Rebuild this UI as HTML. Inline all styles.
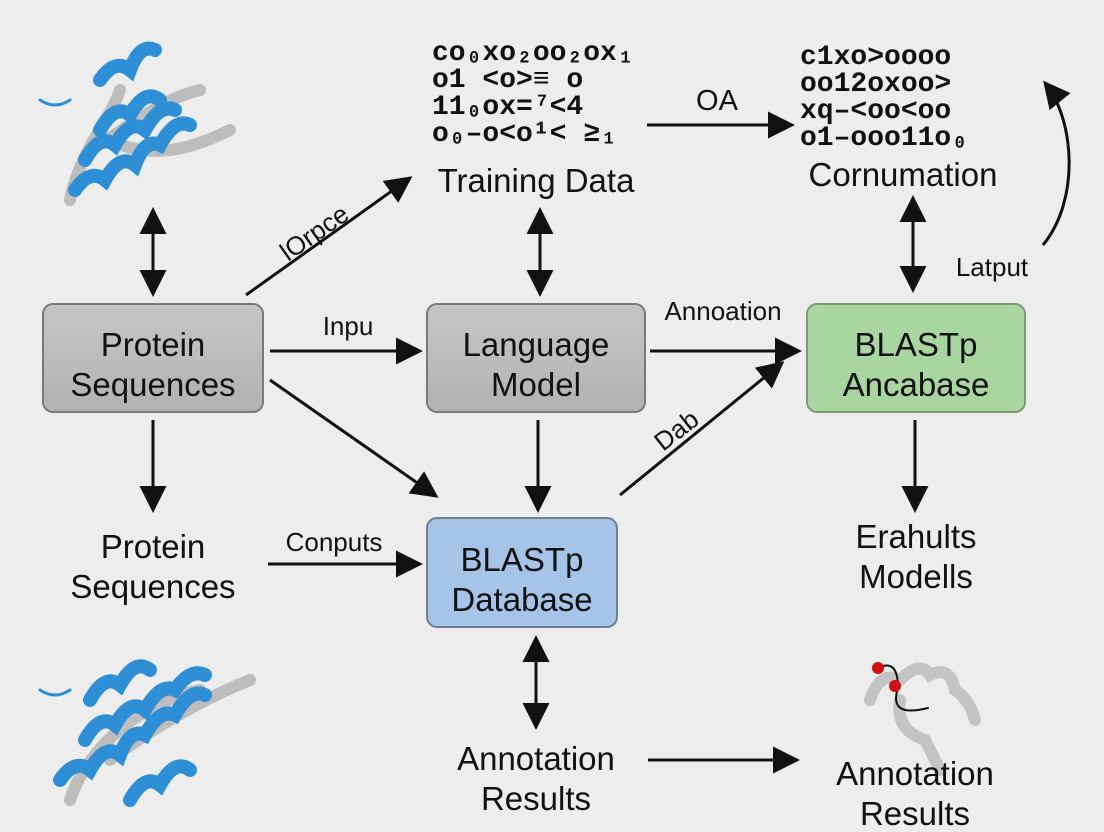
<!DOCTYPE html>
<html><head><meta charset="utf-8"><style>
html,body{margin:0;padding:0;background:#ededed;}
svg{display:block;font-family:"Liberation Sans",sans-serif;}
</style></head><body>
<svg width="1104" height="832" viewBox="0 0 1104 832" xmlns="http://www.w3.org/2000/svg">
<defs>
<marker id="a" markerWidth="9" markerHeight="9" refX="8" refY="4.5" orient="auto" markerUnits="strokeWidth"><path d="M0,0 L9,4.5 L0,9 z" fill="#111"/></marker>
<marker id="s" markerWidth="9" markerHeight="9" refX="1" refY="4.5" orient="auto" markerUnits="strokeWidth"><path d="M9,0 L0,4.5 L9,9 z" fill="#111"/></marker>
<linearGradient id="g1" x1="0" y1="0" x2="0" y2="1"><stop offset="0" stop-color="#c6c6c6"/><stop offset="1" stop-color="#b2b2b2"/></linearGradient>
</defs>
<rect width="1104" height="832" fill="#ededed"/>

<!-- proteins -->
<g fill="none" stroke-linecap="round">
<path d="M70,200 C80,150 110,120 120,90 M90,150 C140,120 160,100 200,90 M110,140 C150,160 190,150 230,130" stroke="#bdbdbd" stroke-width="12"/>
<path d="M75,190 q15,-22 30,-10 q15,-27 30,-15 q10,-27 25,-20 q15,-27 30,-20 M85,160 q15,-27 30,-15 q15,-27 30,-15 q15,-27 30,-20 M100,130 q15,-27 30,-15 q15,-27 30,-15 M100,80 q15,-22 30,-10 q10,-27 25,-20" stroke="#2e8fd6" stroke-width="14"/>
<path d="M40,100 q15,10 30,0" stroke="#2e8fd6" stroke-width="3"/>
<path d="M70,800 C90,740 150,700 200,690 M110,760 C150,730 200,700 250,680" stroke="#bdbdbd" stroke-width="12"/>
<path d="M60,780 q15,-22 30,-10 q15,-27 30,-15 q10,-27 25,-20 q15,-27 30,-20 q15,-27 30,-20 M85,740 q15,-27 30,-15 q15,-27 30,-15 q15,-27 30,-20 q15,-22 30,-15 M90,700 q15,-27 30,-15 q15,-27 30,-15 M130,800 q15,-27 30,-15 q15,-27 30,-15" stroke="#2e8fd6" stroke-width="14"/>
<path d="M40,690 q15,10 30,0" stroke="#2e8fd6" stroke-width="3"/>
<path d="M870,700 q10,-30 30,-20 q20,-20 30,-5 q20,-10 25,15 q15,10 20,30 M900,700 q-5,30 25,40 q10,20 15,30" stroke="#c4c4c4" stroke-width="12"/>
<path d="M878,668 q20,-10 20,20 q-10,30 30,20" stroke="#111" stroke-width="2"/>
</g>
<circle cx="878" cy="668" r="6" fill="#d01010"/><circle cx="895" cy="686" r="6" fill="#d01010"/>

<!-- code text -->
<g font-family="Liberation Mono,monospace" font-size="28" fill="#111" font-weight="bold">
<text x="432" y="60">co₀xo₂oo₂ox₁</text>
<text x="432" y="87">o1 &lt;o&gt;≡  o</text>
<text x="432" y="114">11₀ox=⁷&lt;4</text>
<text x="432" y="141">o₀–o&lt;o¹&lt;  ≥₁</text>
<text x="800" y="64">c1xo&gt;oooo</text>
<text x="800" y="91">oo12oxoo&gt;</text>
<text x="800" y="118">xq–&lt;oo&lt;oo</text>
<text x="800" y="145">o1–ooo11o₀</text>
</g>

<!-- boxes -->
<rect x="43" y="304" width="220" height="108" rx="10" fill="url(#g1)" stroke="#7a7a7a" stroke-width="2"/>
<rect x="427" y="304" width="218" height="108" rx="10" fill="url(#g1)" stroke="#7a7a7a" stroke-width="2"/>
<rect x="807" y="304" width="218" height="108" rx="10" fill="#a9d6a0" stroke="#7a9a72" stroke-width="2"/>
<rect x="427" y="518" width="190" height="109" rx="10" fill="#a5c4e8" stroke="#6f7f92" stroke-width="2"/>
<g font-size="33" fill="#111" text-anchor="middle">
<text x="536" y="192">Training Data</text>
<text x="903" y="186">Cornumation</text>
<text x="153" y="356">Protein</text><text x="153" y="396">Sequences</text>
<text x="536" y="356">Language</text><text x="536" y="396">Model</text>
<text x="916" y="356">BLASTp</text><text x="916" y="396">Ancabase</text>
<text x="153" y="558">Protein</text><text x="153" y="598">Sequences</text>
<text x="522" y="571">BLASTp</text><text x="522" y="611">Database</text>
<text x="916" y="548">Erahults</text><text x="916" y="588">Modells</text>
<text x="536" y="770">Annotation</text><text x="536" y="810">Results</text>
<text x="915" y="785">Annotation</text><text x="915" y="825">Results</text>
</g>

<!-- arrows -->
<g stroke="#111" stroke-width="3" fill="none">
<path d="M153,210 V294" marker-start="url(#s)" marker-end="url(#a)"/>
<path d="M246,295 L410,178" marker-end="url(#a)"/>
<path d="M647,125 L792,125" marker-end="url(#a)"/>
<path d="M540,210 V294" marker-start="url(#s)" marker-end="url(#a)"/>
<path d="M913,198 V290" marker-start="url(#s)" marker-end="url(#a)"/>
<path d="M1043,245 C1080,200 1075,120 1045,83" marker-end="url(#a)"/>
<path d="M270,351 H420" marker-end="url(#a)"/>
<path d="M650,351 H799" marker-end="url(#a)"/>
<path d="M270,380 L436,496" marker-end="url(#a)"/>
<path d="M538,420 V510" marker-end="url(#a)"/>
<path d="M620,495 L782,363" marker-end="url(#a)"/>
<path d="M153,420 V510" marker-end="url(#a)"/>
<path d="M268,564 H420" marker-end="url(#a)"/>
<path d="M915,420 V510" marker-end="url(#a)"/>
<path d="M536,638 V727" marker-start="url(#s)" marker-end="url(#a)"/>
<path d="M648,760 H797" marker-end="url(#a)"/>
</g>
<g font-size="26" fill="#111">
<text x="717" y="110" text-anchor="middle" font-size="29">OA</text>
<text x="288" y="262" transform="rotate(-35 288 262)">lOrpce</text>
<text x="992" y="276" text-anchor="middle">Latput</text>
<text x="348" y="335" text-anchor="middle">Inpu</text>
<text x="723" y="320" text-anchor="middle">Annoation</text>
<text x="663" y="452" transform="rotate(-38 663 452)">Dab</text>
<text x="334" y="551" text-anchor="middle">Conputs</text>
</g>
</svg>
</body></html>
